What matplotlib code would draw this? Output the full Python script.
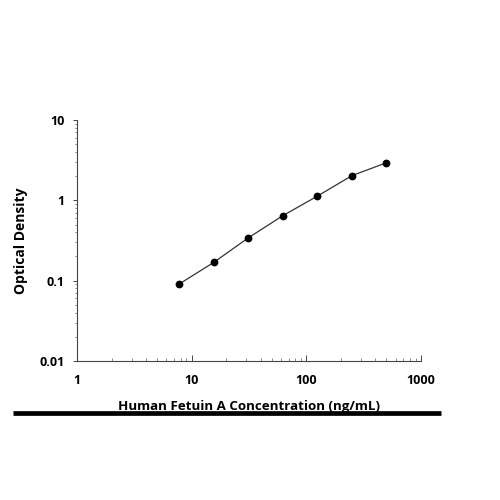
import matplotlib
matplotlib.use("Agg")
import matplotlib.pyplot as plt
from matplotlib.lines import Line2D
from matplotlib.ticker import LogLocator, NullFormatter, FixedLocator

# standard curve data
conc = [7.8, 15.6, 31.25, 62.5, 125, 250, 500]
od = [0.091, 0.169, 0.342, 0.645, 1.13, 2.03, 2.94]
xticks = [1, 10, 100, 1000]
xtick_labels = ["1", "10", "100", "1000"]
yticks = [0.01, 0.1, 1, 10]
ytick_labels = ["0.01", "0.1", "1", "10"]

plt.rcParams['font.family'] = ['Open Sans', 'DejaVu Sans']

fig = plt.figure(figsize=(5, 5), dpi=100)
ax = fig.add_axes((0.154, 0.278, 0.688, 0.482))

ax.plot(conc, od, color="#333333", lw=0.9, zorder=2)
ax.plot(conc, od, "o", color="black", ms=4.6, zorder=3)

ax.set_xscale("log")
ax.set_yscale("log")
ax.set_xlim(1, 1000)
ax.set_ylim(0.01, 10)

ax.xaxis.set_major_locator(FixedLocator(xticks))
ax.set_xticklabels(xtick_labels)
ax.yaxis.set_major_locator(FixedLocator(yticks))
ax.set_yticklabels(ytick_labels)
ax.xaxis.set_minor_locator(LogLocator(base=10, subs=range(2, 10)))
ax.yaxis.set_minor_locator(LogLocator(base=10, subs=range(2, 10)))
ax.xaxis.set_minor_formatter(NullFormatter())
ax.yaxis.set_minor_formatter(NullFormatter())

for side in ["top", "right"]:
    ax.spines[side].set_visible(False)
for side in ["left", "bottom"]:
    ax.spines[side].set_color("#444444")
    ax.spines[side].set_linewidth(0.8)

ax.tick_params(axis="x", which="major", direction="in", length=4, width=0.7,
               color="#444444", pad=9, labelsize=9)
ax.tick_params(axis="x", which="minor", direction="in", length=2.5, width=0.6,
               color="#777777")
ax.tick_params(axis="y", which="major", direction="out", length=3, width=0.7,
               color="#444444", pad=6, labelsize=9)
ax.tick_params(axis="y", which="minor", direction="out", length=1.5, width=0.6,
               color="#777777")
for lab in ax.get_xticklabels() + ax.get_yticklabels():
    lab.set_fontweight("bold")

ax.set_xlabel("Human Fetuin A Concentration (ng/mL)", fontsize=9.6,
              fontweight="bold", labelpad=10)
ax.set_ylabel("Optical Density", fontsize=10, fontweight="bold", labelpad=8)

# black bar under the axis label
fig.add_artist(Line2D([0.026, 0.882], [0.174, 0.174], color="black", lw=3.4,
                      solid_capstyle="butt", transform=fig.transFigure))

fig.savefig("out.png", dpi=100)
